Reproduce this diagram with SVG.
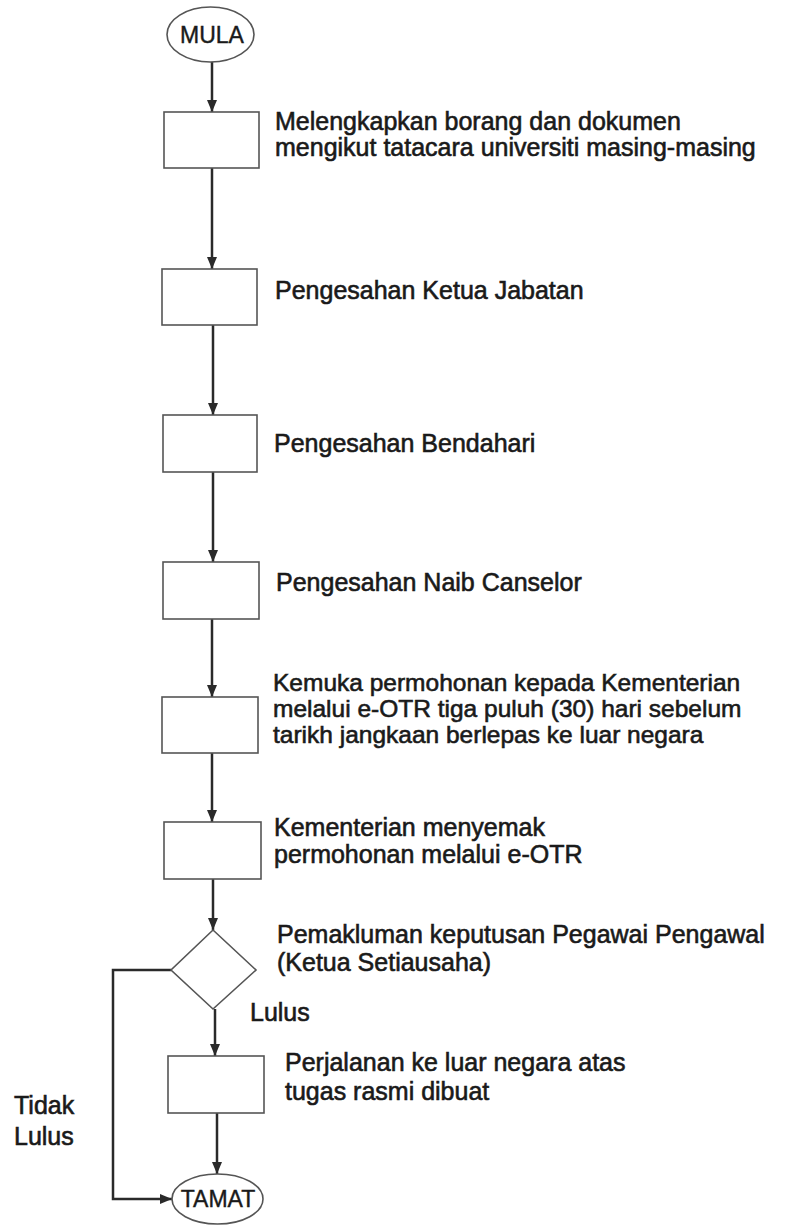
<svg xmlns="http://www.w3.org/2000/svg" width="787" height="1226" viewBox="0 0 787 1226">
<style>
.bg{fill:#ffffff}
.shape{fill:#ffffff;stroke:#555555;stroke-width:1.6}
.conn{fill:none;stroke:#2a2a2a;stroke-width:2.5}
.t{font-family:"Liberation Sans",Arial,sans-serif;font-size:25px;fill:#1a1a1a;stroke:#1a1a1a;stroke-width:0.6}
.t5{font-size:24.5px}
.term{font-family:"Liberation Sans",Arial,sans-serif;font-size:23px;fill:#1a1a1a;stroke:#1a1a1a;stroke-width:0.4;text-anchor:middle}
</style>
<defs>
<marker id="arr" viewBox="0 0 12 10" refX="12" refY="5" markerWidth="12" markerHeight="10" markerUnits="userSpaceOnUse" orient="auto">
<path d="M0,0 L12,5 L0,10 Z" fill="#2a2a2a"/>
</marker>
</defs>
<rect class="bg" x="0" y="0" width="787" height="1226"/>
<g id="connectors">
<line class="conn" x1="212" y1="62" x2="212" y2="112" marker-end="url(#arr)"/>
<line class="conn" x1="212" y1="168" x2="212" y2="269" marker-end="url(#arr)"/>
<line class="conn" x1="213" y1="325" x2="213" y2="415" marker-end="url(#arr)"/>
<line class="conn" x1="213" y1="472" x2="213" y2="562" marker-end="url(#arr)"/>
<line class="conn" x1="212" y1="619" x2="212" y2="697" marker-end="url(#arr)"/>
<line class="conn" x1="212" y1="753" x2="212" y2="822" marker-end="url(#arr)"/>
<line class="conn" x1="213" y1="879" x2="213" y2="930" marker-end="url(#arr)"/>
<line class="conn" x1="215" y1="1009" x2="215" y2="1056" marker-end="url(#arr)"/>
<line class="conn" x1="217" y1="1113" x2="217" y2="1174" marker-end="url(#arr)"/>
<polyline class="conn" points="171,970 113,970 113,1199 172,1199" marker-end="url(#arr)"/>
</g>
<g id="mula">
<ellipse class="shape" cx="210.5" cy="34.5" rx="43.5" ry="27.5"/>
<text class="term" x="212" y="43">MULA</text>
</g>
<g id="step1">
<rect class="shape" x="164" y="112" width="95" height="56"/>
<text class="t" x="275" y="130">Melengkapkan borang dan dokumen</text>
<text class="t" x="275" y="156">mengikut tatacara universiti masing-masing</text>
</g>
<g id="step2">
<rect class="shape" x="162" y="269" width="95" height="56"/>
<text class="t" x="275" y="299">Pengesahan Ketua Jabatan</text>
</g>
<g id="step3">
<rect class="shape" x="163" y="415" width="94" height="57"/>
<text class="t" x="274" y="452">Pengesahan Bendahari</text>
</g>
<g id="step4">
<rect class="shape" x="163" y="562" width="96" height="57"/>
<text class="t" x="276" y="591">Pengesahan Naib Canselor</text>
</g>
<g id="step5">
<rect class="shape" x="162" y="697" width="96" height="56"/>
<text class="t t5" x="273" y="691">Kemuka permohonan kepada Kementerian</text>
<text class="t t5" x="273" y="717">melalui e-OTR tiga puluh (30) hari sebelum</text>
<text class="t t5" x="273" y="743">tarikh jangkaan berlepas ke luar negara</text>
</g>
<g id="step6">
<rect class="shape" x="164" y="822" width="97" height="57"/>
<text class="t" x="274" y="836">Kementerian menyemak</text>
<text class="t" x="274" y="863">permohonan melalui e-OTR</text>
</g>
<g id="decision">
<polygon class="shape" points="213,930 256,970 213,1009 171,970"/>
<text class="t" x="277" y="943">Pemakluman keputusan Pegawai Pengawal</text>
<text class="t" x="277" y="971">(Ketua Setiausaha)</text>
</g>
<g id="label-lulus">
<text class="t" x="250" y="1021">Lulus</text>
</g>
<g id="label-tidak">
<text class="t" x="14" y="1114">Tidak</text>
<text class="t" x="14" y="1145">Lulus</text>
</g>
<g id="step7">
<rect class="shape" x="168" y="1056" width="96" height="57"/>
<text class="t" x="285" y="1071">Perjalanan ke luar negara atas</text>
<text class="t" x="285" y="1100">tugas rasmi dibuat</text>
</g>
<g id="tamat">
<ellipse class="shape" cx="217.5" cy="1199" rx="45.5" ry="25"/>
<text class="term" x="218" y="1207">TAMAT</text>
</g>
</svg>
